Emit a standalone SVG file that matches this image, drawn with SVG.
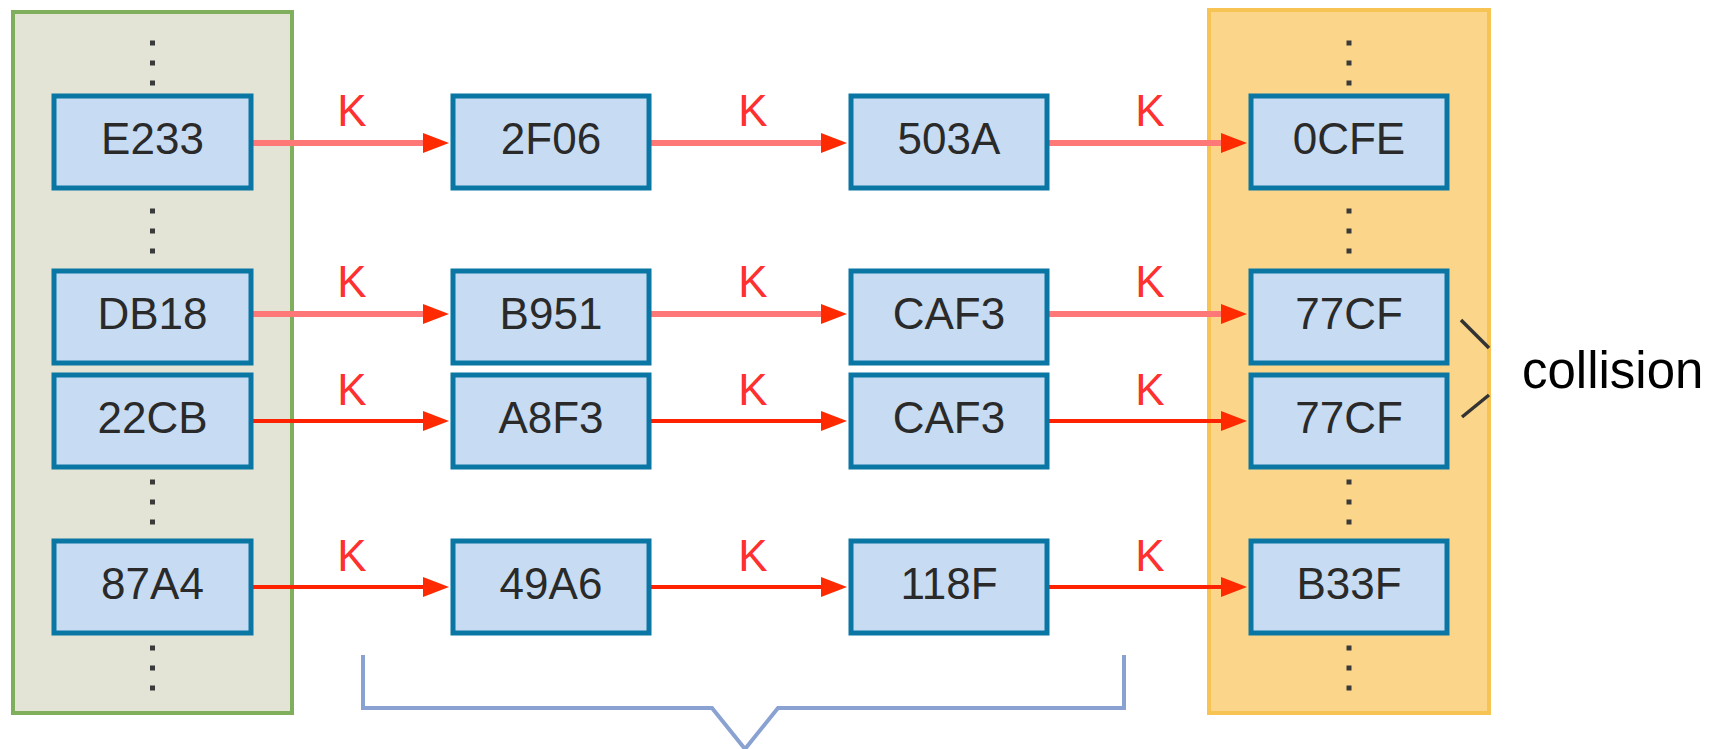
<svg xmlns="http://www.w3.org/2000/svg" width="1711" height="749" viewBox="0 0 1711 749">
<style>
.box{fill:#c7dcf2;stroke:#0a76a4;stroke-width:5}
.lbl{font-family:"Liberation Sans",Arial,sans-serif;font-size:44px;fill:#2a2a2a;text-anchor:middle}
.k{font-family:"Liberation Sans",Arial,sans-serif;font-size:44px;fill:#ff3030;text-anchor:middle}
.dot{fill:#3a3a3a}
.pink{stroke:#ff7878;stroke-width:6;fill:none}
.red{stroke:#ff2200;stroke-width:4;fill:none}
.head{fill:#ff2a00}
</style>
<defs>
<g id="dots"><rect x="-2.5" y="-2.5" width="5" height="5" class="dot"/><rect x="-2.5" y="17.5" width="5" height="5" class="dot"/><rect x="-2.5" y="37.5" width="5" height="5" class="dot"/></g>
</defs>
<g id="table-left">
<rect x="13" y="12" width="279" height="701" fill="#e3e4d5" stroke="#7fae5c" stroke-width="4"/>
<use href="#dots" x="152.5" y="43"/>
<use href="#dots" x="152.5" y="211"/>
<use href="#dots" x="152.5" y="482"/>
<use href="#dots" x="152.5" y="648"/>
</g>
<g id="table-right">
<rect x="1209" y="10" width="280" height="703" fill="#fbd68a" stroke="#f7c352" stroke-width="4"/>
<rect x="1491" y="330" width="220" height="80" fill="#ffffff"/>
<use href="#dots" x="1349" y="43"/>
<use href="#dots" x="1349" y="211"/>
<use href="#dots" x="1349" y="482"/>
<use href="#dots" x="1349" y="648"/>
</g>
<g id="connectors">
<line class="pink" x1="251" y1="143" x2="425" y2="143"/><polygon class="head" points="449,143 423,133 423,153"/>
<line class="pink" x1="649" y1="143" x2="823" y2="143"/><polygon class="head" points="847,143 821,133 821,153"/>
<line class="pink" x1="1047" y1="143" x2="1222" y2="143"/><polygon class="head" points="1247,143 1221,133 1221,153"/>
<line class="pink" x1="251" y1="314" x2="425" y2="314"/><polygon class="head" points="449,314 423,304 423,324"/>
<line class="pink" x1="649" y1="314" x2="823" y2="314"/><polygon class="head" points="847,314 821,304 821,324"/>
<line class="pink" x1="1047" y1="314" x2="1222" y2="314"/><polygon class="head" points="1247,314 1221,304 1221,324"/>
<line class="red" x1="251" y1="421" x2="425" y2="421"/><polygon class="head" points="449,421 423,411 423,431"/>
<line class="red" x1="649" y1="421" x2="823" y2="421"/><polygon class="head" points="847,421 821,411 821,431"/>
<line class="red" x1="1047" y1="421" x2="1222" y2="421"/><polygon class="head" points="1247,421 1221,411 1221,431"/>
<line class="red" x1="251" y1="587" x2="425" y2="587"/><polygon class="head" points="449,587 423,577 423,597"/>
<line class="red" x1="649" y1="587" x2="823" y2="587"/><polygon class="head" points="847,587 821,577 821,597"/>
<line class="red" x1="1047" y1="587" x2="1222" y2="587"/><polygon class="head" points="1247,587 1221,577 1221,597"/>
<text class="k" x="352" y="126">K</text><text class="k" x="753" y="126">K</text><text class="k" x="1150" y="126">K</text>
<text class="k" x="352" y="297">K</text><text class="k" x="753" y="297">K</text><text class="k" x="1150" y="297">K</text>
<text class="k" x="352" y="405">K</text><text class="k" x="753" y="405">K</text><text class="k" x="1150" y="405">K</text>
<text class="k" x="352" y="571">K</text><text class="k" x="753" y="571">K</text><text class="k" x="1150" y="571">K</text>
</g>
<g id="r1c1"><rect class="box" x="54" y="96" width="197" height="92"/><text class="lbl" x="152.5" y="154">E233</text></g>
<g id="r1c2"><rect class="box" x="453" y="96" width="196" height="92"/><text class="lbl" x="551" y="154">2F06</text></g>
<g id="r1c3"><rect class="box" x="851" y="96" width="196" height="92"/><text class="lbl" x="949" y="154">503A</text></g>
<g id="r1c4"><rect class="box" x="1251" y="96" width="196" height="92"/><text class="lbl" x="1349" y="154">0CFE</text></g>
<g id="r2c1"><rect class="box" x="54" y="271" width="197" height="92"/><text class="lbl" x="152.5" y="329">DB18</text></g>
<g id="r2c2"><rect class="box" x="453" y="271" width="196" height="92"/><text class="lbl" x="551" y="329">B951</text></g>
<g id="r2c3"><rect class="box" x="851" y="271" width="196" height="92"/><text class="lbl" x="949" y="329">CAF3</text></g>
<g id="r2c4"><rect class="box" x="1251" y="271" width="196" height="92"/><text class="lbl" x="1349" y="329">77CF</text></g>
<g id="r3c1"><rect class="box" x="54" y="375" width="197" height="92"/><text class="lbl" x="152.5" y="433">22CB</text></g>
<g id="r3c2"><rect class="box" x="453" y="375" width="196" height="92"/><text class="lbl" x="551" y="433">A8F3</text></g>
<g id="r3c3"><rect class="box" x="851" y="375" width="196" height="92"/><text class="lbl" x="949" y="433">CAF3</text></g>
<g id="r3c4"><rect class="box" x="1251" y="375" width="196" height="92"/><text class="lbl" x="1349" y="433">77CF</text></g>
<g id="r4c1"><rect class="box" x="54" y="541" width="197" height="92"/><text class="lbl" x="152.5" y="599">87A4</text></g>
<g id="r4c2"><rect class="box" x="453" y="541" width="196" height="92"/><text class="lbl" x="551" y="599">49A6</text></g>
<g id="r4c3"><rect class="box" x="851" y="541" width="196" height="92"/><text class="lbl" x="949" y="599">118F</text></g>
<g id="r4c4"><rect class="box" x="1251" y="541" width="196" height="92"/><text class="lbl" x="1349" y="599">B33F</text></g>
<g id="collision">
<line x1="1461" y1="320" x2="1489" y2="348" stroke="#333" stroke-width="3.5"/>
<line x1="1462" y1="417" x2="1489" y2="395" stroke="#333" stroke-width="3.5"/>
<text x="1522" y="388" font-family="Liberation Sans, Arial, sans-serif" font-size="51" fill="#000">collision</text>
</g>
<g id="bracket">
<polyline points="363,655 363,708 712,708 745,749 778,708 1124,708 1124,655" fill="none" stroke="#8aa2d2" stroke-width="4"/>
</g>
</svg>
